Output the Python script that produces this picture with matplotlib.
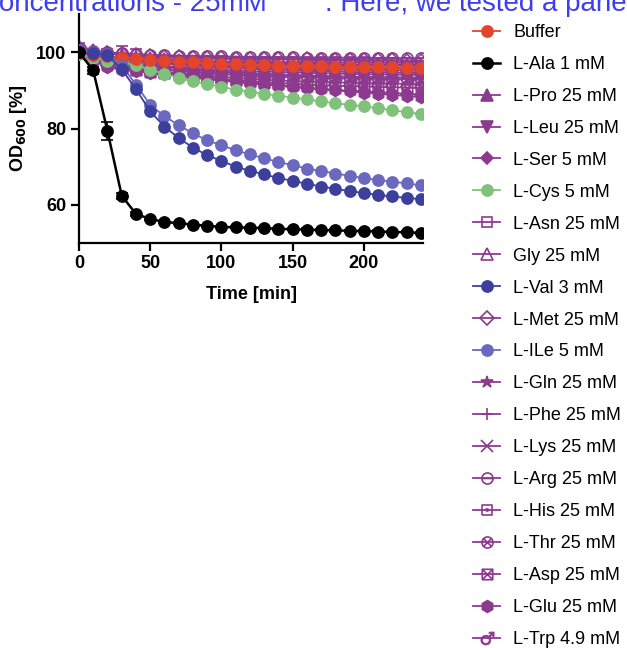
import matplotlib
matplotlib.use("Agg")
import matplotlib.pyplot as plt
from matplotlib.path import Path
import numpy as np

plt.rcParams['font.family'] = ['Liberation Sans', 'DejaVu Sans']

time_min = list(range(0, 250, 10))

buffer_v = [100.0, 99.3, 98.9, 98.6, 98.3, 98.0, 97.7, 97.5, 97.3, 97.1, 96.9, 96.8, 96.7,
            96.6, 96.5, 96.4, 96.3, 96.3, 96.2, 96.1, 96.1, 96.0, 96.0, 95.9, 95.9]
ala_v = [100.0, 95.2, 79.3, 62.4, 57.6, 56.3, 55.5, 55.2, 54.8, 54.5, 54.2, 54.1, 54.0,
         53.9, 53.7, 53.6, 53.5, 53.4, 53.3, 53.2, 53.1, 53.0, 52.9, 52.8, 52.6]
ala_err = [0.5, 0.8, 2.3, 0.8, 0.5, 0.4, 0.3, 0.3, 0.3, 0.3, 0.3, 0.3, 0.3,
           0.3, 0.3, 0.3, 0.3, 0.3, 0.3, 0.3, 0.3, 0.3, 0.3, 0.3, 0.3]
pro_v = [100.8, 99.8, 98.9, 98.3, 97.8, 97.4, 97.0, 96.7, 96.4, 96.2, 96.0, 95.8, 95.6,
         95.5, 95.3, 95.2, 95.1, 95.0, 94.9, 94.8, 94.7, 94.7, 94.6, 94.6, 94.5]
pro_err = [1.5, 1.0, 2.0, 3.3, 3.0, 1.0, 0.5, 0.5, 0.5, 0.5, 0.5, 0.5, 0.5,
           0.5, 0.5, 0.5, 0.5, 0.5, 0.5, 0.5, 0.5, 0.5, 0.5, 0.5, 0.5]
leu_v = [100.3, 99.2, 98.2, 97.5, 97.0, 96.5, 96.1, 95.7, 95.4, 95.1, 94.9, 94.7, 94.5,
         94.3, 94.2, 94.0, 93.9, 93.8, 93.7, 93.6, 93.5, 93.5, 93.4, 93.4, 93.3]
ser_v = [100.5, 98.5, 96.6, 95.7, 95.2, 94.8, 94.4, 94.0, 93.6, 93.2, 92.8, 92.4, 92.0,
         91.6, 91.3, 91.0, 90.7, 90.4, 90.1, 89.9, 89.7, 89.5, 89.3, 89.1, 88.9]
cys_v = [99.5, 98.6, 97.8, 97.3, 96.6, 95.4, 94.3, 93.3, 92.4, 91.6, 90.9, 90.2, 89.6,
         89.1, 88.6, 88.1, 87.6, 87.1, 86.6, 86.2, 85.8, 85.3, 84.8, 84.3, 83.8]
asn_v = [100.0, 99.3, 98.5, 98.2, 98.0, 97.9, 97.8, 97.7, 97.7, 97.6, 97.6, 97.5, 97.5,
         97.5, 97.4, 97.4, 97.4, 97.3, 97.3, 97.3, 97.3, 97.2, 97.2, 97.2, 97.2]
gly_v = [101.5, 100.6, 99.8, 99.2, 98.8, 98.5, 98.2, 98.0, 97.8, 97.6, 97.5, 97.4, 97.3,
         97.2, 97.1, 97.0, 97.0, 96.9, 96.9, 96.8, 96.8, 96.8, 96.7, 96.7, 96.7]
val_v = [100.0, 99.8, 99.2, 95.5, 90.3, 84.5, 80.5, 77.5, 75.0, 73.0, 71.5, 70.0, 68.9,
         68.0, 67.0, 66.3, 65.5, 64.8, 64.2, 63.6, 63.1, 62.6, 62.2, 61.8, 61.5]
met_v = [100.6, 100.1, 99.7, 99.4, 99.2, 99.0, 98.8, 98.7, 98.6, 98.5, 98.4, 98.3, 98.3,
         98.2, 98.2, 98.1, 98.1, 98.0, 98.0, 98.0, 97.9, 97.9, 97.9, 97.8, 97.8]
ile_v = [100.5, 100.0, 99.5, 96.5, 91.5, 86.2, 83.2, 80.9, 78.7, 76.9, 75.6, 74.3, 73.2,
         72.2, 71.2, 70.4, 69.5, 68.9, 68.2, 67.6, 67.0, 66.5, 66.1, 65.6, 65.1]
gln_v = [100.4, 99.5, 98.7, 98.2, 97.8, 97.4, 97.1, 96.8, 96.6, 96.4, 96.3, 96.1, 96.0,
         95.9, 95.8, 95.7, 95.6, 95.5, 95.5, 95.4, 95.4, 95.3, 95.3, 95.2, 95.2]
phe_v = [99.8, 99.2, 98.6, 98.2, 97.9, 97.6, 97.3, 97.1, 96.9, 96.8, 96.7, 96.6, 96.5,
         96.4, 96.3, 96.2, 96.1, 96.0, 96.0, 95.9, 95.9, 95.8, 95.8, 95.7, 95.7]
lys_v = [99.6, 98.8, 98.0, 97.4, 97.0, 96.6, 96.3, 96.0, 95.8, 95.6, 95.4, 95.2, 95.0,
         94.9, 94.8, 94.7, 94.6, 94.5, 94.4, 94.3, 94.2, 94.2, 94.1, 94.1, 94.0]
arg_v = [101.0, 100.4, 100.0, 99.7, 99.5, 99.3, 99.2, 99.1, 99.0, 98.9, 98.9, 98.8, 98.8,
         98.7, 98.7, 98.7, 98.6, 98.6, 98.6, 98.5, 98.5, 98.5, 98.5, 98.4, 98.4]
his_v = [100.2, 99.6, 99.0, 98.6, 98.3, 98.0, 97.8, 97.6, 97.4, 97.3, 97.2, 97.1, 97.0,
         96.9, 96.8, 96.8, 96.7, 96.7, 96.6, 96.6, 96.5, 96.5, 96.5, 96.4, 96.4]
thr_v = [99.9, 98.7, 97.6, 96.8, 96.3, 95.9, 95.5, 95.1, 94.8, 94.5, 94.3, 94.1, 93.9,
         93.7, 93.6, 93.5, 93.4, 93.3, 93.2, 93.1, 93.0, 93.0, 92.9, 92.9, 92.8]
asp_v = [99.7, 98.2, 96.8, 96.0, 95.4, 94.9, 94.5, 94.1, 93.7, 93.3, 93.0, 92.7, 92.4,
         92.1, 91.9, 91.7, 91.5, 91.3, 91.2, 91.1, 91.0, 90.9, 90.8, 90.7, 90.6]
glu_v = [100.0, 98.0, 96.2, 95.4, 95.0, 94.6, 94.2, 93.8, 93.4, 93.0, 92.6, 92.2, 91.8,
         91.5, 91.2, 90.9, 90.6, 90.3, 90.0, 89.7, 89.4, 89.1, 88.8, 88.5, 88.2]
trp_v = [100.1, 98.5, 97.2, 96.4, 95.8, 95.3, 94.9, 94.5, 94.1, 93.8, 93.5, 93.3, 93.0,
         92.8, 92.6, 92.4, 92.3, 92.2, 92.1, 92.0, 91.9, 91.8, 91.8, 91.7, 91.6]

legend_labels = ["Buffer", "L-Ala 1 mM", "L-Pro 25 mM", "L-Leu 25 mM", "L-Ser 5 mM",
                 "L-Cys 5 mM", "L-Asn 25 mM", "Gly 25 mM", "L-Val 3 mM", "L-Met 25 mM",
                 "L-ILe 5 mM", "L-Gln 25 mM", "L-Phe 25 mM", "L-Lys 25 mM", "L-Arg 25 mM",
                 "L-His 25 mM", "L-Thr 25 mM", "L-Asp 25 mM", "L-Glu 25 mM", "L-Trp 4.9 mM"]

RED = "#e2452b"
BLACK = "#000000"
PURPLE = "#8c3a8e"
GREEN = "#7fc27c"
DBLUE = "#3c3f9c"
LBLUE = "#6b69bf"

# custom markers
M, L = Path.MOVETO, Path.LINETO
circ = Path.unit_circle()
sq = Path([[-1, -1], [1, -1], [1, 1], [-1, 1], [-1, -1]], [M, L, L, L, L])
d = 0.7071
arg_mk = Path.make_compound_path(circ, Path([[-1, 0], [1, 0]], [M, L]))
thr_mk = Path.make_compound_path(circ, Path([[-d, -d], [d, d], [-d, d], [d, -d]], [M, L, M, L]))
asp_mk = Path.make_compound_path(sq, Path([[-1, -1], [1, 1], [-1, 1], [1, -1]], [M, L, M, L]))
his_mk = Path.make_compound_path(sq, Path([[-0.2, -0.2], [0.2, -0.2], [0.2, 0.2], [-0.2, 0.2], [-0.2, -0.2]],
                                          [M, L, L, L, L]))

fig = plt.figure(figsize=(6.27, 6.48), dpi=100)
ax = fig.add_axes([79 / 627, 1 - 243 / 648, (423 - 79) / 627, (243 - 14) / 648])

handles = {}

def draw(key, y, color, marker, ms=8, filled=True, lw=1.3, yerr=None, z=2, mew=1.2):
    kw = dict(color=color, marker=marker, markersize=ms, linewidth=lw, zorder=z,
              markeredgewidth=mew)
    if not filled:
        kw['markerfacecolor'] = 'none'
    if yerr is not None:
        h = ax.errorbar(time_min, y, yerr=yerr, capsize=4, elinewidth=1.2, capthick=1.2, **kw)
        handles[key] = h.lines[0]
    else:
        h, = ax.plot(time_min, y, **kw)
        handles[key] = h

# purples
draw("L-Glu 25 mM", glu_v, PURPLE, 'h', ms=8.5)
draw("L-Ser 5 mM", ser_v, PURPLE, 'D', ms=6.5)
draw("L-Asp 25 mM", asp_v, PURPLE, asp_mk, ms=7.5, filled=False)
draw("L-Trp 4.9 mM", trp_v, PURPLE, '$\u2642$', ms=9.5, mew=0.6)
draw("L-Thr 25 mM", thr_v, PURPLE, thr_mk, ms=8, filled=False)
draw("L-Leu 25 mM", leu_v, PURPLE, 'v', ms=8)
draw("L-Lys 25 mM", lys_v, PURPLE, 'x', ms=8)
draw("L-Pro 25 mM", pro_v, PURPLE, '^', ms=8, yerr=pro_err)
draw("L-Gln 25 mM", gln_v, PURPLE, '*', ms=9)
draw("L-Phe 25 mM", phe_v, PURPLE, '+', ms=8.5)
draw("L-His 25 mM", his_v, PURPLE, his_mk, ms=7.5, filled=False)
draw("Gly 25 mM", gly_v, PURPLE, '^', ms=8, filled=False)
draw("L-Asn 25 mM", asn_v, PURPLE, 's', ms=7.5, filled=False)
draw("L-Met 25 mM", met_v, PURPLE, 'D', ms=7, filled=False)
draw("L-Arg 25 mM", arg_v, PURPLE, arg_mk, ms=8, filled=False)
# others
draw("L-Cys 5 mM", cys_v, GREEN, 'o', z=3)
draw("Buffer", buffer_v, RED, 'o', z=4)
draw("L-ILe 5 mM", ile_v, LBLUE, 'o', z=5)
draw("L-Val 3 mM", val_v, DBLUE, 'o', z=5)
draw("L-Ala 1 mM", ala_v, BLACK, 'o', lw=1.8, yerr=ala_err, z=6)

ax.set_xlim(0, 241.5)
ax.set_ylim(50, 110)
ax.set_xticks([0, 50, 100, 150, 200])
ax.set_yticks([60, 80, 100])
for s in ['top', 'right']:
    ax.spines[s].set_visible(False)
for s in ['left', 'bottom']:
    ax.spines[s].set_linewidth(1.6)
ax.tick_params(width=1.6, length=6, labelsize=13, pad=3)
for lab in ax.get_xticklabels() + ax.get_yticklabels():
    lab.set_fontweight('bold')

ax.set_ylabel("OD$_{\\mathbf{600}}$ [%]", fontsize=13, fontweight='bold')
ax.yaxis.set_label_coords((29 - 79) / 344, 0.5)
ax.set_xlabel("Time [min]", fontsize=13, fontweight='bold')
ax.xaxis.set_label_coords(0.5, (243 - 286) / 229)

fig.legend([handles[k] for k in legend_labels], legend_labels,
           loc='upper left', bbox_to_anchor=(473 / 627, 1 - 24 / 648),
           frameon=False, fontsize=13, handlelength=1.5, handletextpad=0.72,
           labelspacing=0.828, borderpad=0, borderaxespad=0)

BLUE_TXT = "#3e3ef0"
fig.text(267 / 627, 1 - 11 / 648, "concentrations - 25mM", color=BLUE_TXT,
         fontsize=20, ha='right', va='baseline')
fig.text(325 / 627, 1 - 11 / 648, ". Here, we tested a panel", color=BLUE_TXT,
         fontsize=20, ha='left', va='baseline')

fig.savefig("out.png", dpi=100)
